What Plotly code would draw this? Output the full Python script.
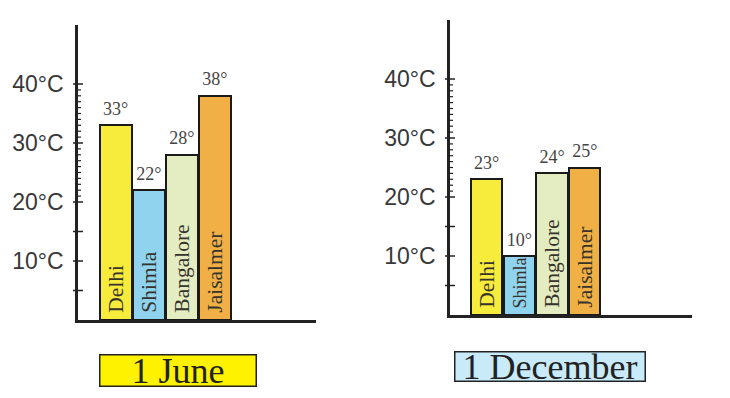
import plotly.graph_objects as go

cities = ["Delhi", "Shimla", "Bangalore", "Jaisalmer"]
june_temps = [33, 22, 28, 38]
december_temps = [23, 10, 24, 25]
bar_colors = ["#f7ec3c", "#8fd3ee", "#e4ecc1", "#f0b045"]
tick_vals = [10, 20, 30, 40]
tick_text = ["10°C", "20°C", "30°C", "40°C"]
mid_ticks = [5, 15]
fine_ticks = [v for v in range(21, 40) if v != 30]
panel_titles = ["1 June", "1 December"]
title_colors = ["#fff200", "#c9eaf8"]
label_sizes = [[21.5, 21.5, 21.5, 21.5], [21.5, 18, 21.5, 21.5]]

PAGE_W, PAGE_H = 730, 398
OFF = 8  # default page body margin
W, H = PAGE_W - 2 * OFF, PAGE_H - 2 * OFF


def px_x(x):
    return (x - OFF) / W


def px_y(y):
    return 1 - (y - OFF) / H


panels = [
    dict(x0=78, x1=316, base=320, top=25, xr=[-1.14, 6.06], title_xy=(177.5, 370), box=(155, 30)),
    dict(x0=450, x1=692, base=315, top=20, xr=[-1.12, 6.28], title_xy=(549.5, 366), box=(189, 28)),
]
data_sets = [june_temps, december_temps]

fig = go.Figure()
shapes = []
annotations = []
SERIF = "Liberation Serif, Times New Roman, serif"
SANS = "Liberation Sans, Arial, sans-serif"

for i, (p, vals) in enumerate(zip(panels, data_sets)):
    xa = "x" if i == 0 else "x2"
    ya = "y" if i == 0 else "y2"
    xs = list(range(len(cities)))
    fig.add_trace(go.Bar(
        x=xs, y=vals, xaxis=xa, yaxis=ya, width=0.96,
        marker=dict(color=bar_colors, line=dict(color="#1a1a1a", width=2)),
        text=["\u2009" + c for c in cities], textposition="inside", insidetextanchor="start",
        textangle=-90, constraintext="none",
        textfont=dict(family=SERIF, size=label_sizes[i], color="#36322c"),
        showlegend=False, hoverinfo="skip",
    ))
    fig.add_trace(go.Scatter(
        x=xs, y=vals, xaxis=xa, yaxis=ya, mode="markers+text",
        marker=dict(size=8, opacity=0),
        text=[f"{v}°" for v in vals], textposition="top center",
        textfont=dict(family=SERIF, size=18, color="#444444"),
        cliponaxis=False, showlegend=False, hoverinfo="skip",
    ))
    axw = p["x1"] - p["x0"]
    xdref = xa + " domain"
    for v in tick_vals + mid_ticks:
        shapes.append(dict(type="line", xref=xdref, yref=ya, x0=-5 / axw, x1=5 / axw,
                           y0=v, y1=v, line=dict(color="#222222", width=1.5)))
    for v in fine_ticks:
        shapes.append(dict(type="line", xref=xdref, yref=ya, x0=-3 / axw, x1=3 / axw,
                           y0=v, y1=v, line=dict(color="#222222", width=1.2)))
    bw, bh = p["box"]
    annotations.append(dict(
        text=panel_titles[i], xref="paper", yref="paper",
        x=px_x(p["title_xy"][0]), y=px_y(p["title_xy"][1]),
        xanchor="center", yanchor="middle", showarrow=False,
        width=bw, height=bh, bgcolor=title_colors[i], bordercolor="#222222",
        borderwidth=1.5, borderpad=0,
        font=dict(family=SERIF, size=36, color="#222222"),
    ))

layout_axes = {}
for i, p in enumerate(panels):
    sfx = "" if i == 0 else "2"
    layout_axes["xaxis" + sfx] = dict(
        domain=[px_x(p["x0"]), px_x(p["x1"])], range=p["xr"],
        showline=True, linecolor="#222222", linewidth=2.5,
        showticklabels=False, ticks="", showgrid=False, zeroline=False,
        anchor="y" + sfx, fixedrange=True,
    )
    layout_axes["yaxis" + sfx] = dict(
        domain=[px_y(p["base"]), px_y(p["top"])], range=[0, 50],
        showline=True, linecolor="#222222", linewidth=2.5,
        tickvals=tick_vals, ticktext=tick_text, ticks="", ticklabelstandoff=7,
        tickfont=dict(family=SANS, size=23, color="#383838"),
        showgrid=False, zeroline=False, anchor="x" + sfx, fixedrange=True,
    )

fig.update_layout(
    width=W, height=H, margin=dict(l=0, r=0, t=0, b=0),
    paper_bgcolor="white", plot_bgcolor="white",
    shapes=shapes, annotations=annotations, bargap=0,
    **layout_axes,
)

fig.write_html("out.html")
